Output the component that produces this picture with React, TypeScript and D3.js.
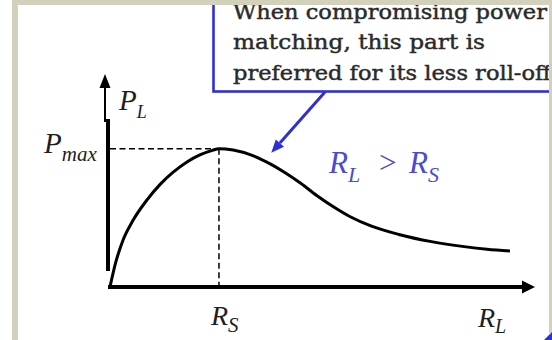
import React from "react";
import * as d3 from "d3";

// Load power P_L / P_max versus load resistance R_L / R_S
const loadRatio = [
  0, 0.05, 0.12, 0.21, 0.34, 0.46, 0.58, 0.71, 0.83, 0.94, 1.0, 1.13, 1.31,
  1.47, 1.6, 1.75, 1.9, 2.05, 2.2, 2.4, 2.65, 2.95, 3.25, 3.46, 3.67,
];
const powerRatio = [
  0, 0.17, 0.34, 0.48, 0.63, 0.742, 0.83, 0.906, 0.957, 0.988, 1.0, 0.99,
  0.95, 0.89, 0.83, 0.75, 0.66, 0.58, 0.51, 0.44, 0.38, 0.328, 0.292, 0.273,
  0.26,
];

// Matched load and maximum power marks
const matchedLoad = 1;
const maxPower = 1;

// Callout note and the curve point it refers to
const calloutLines = [
  "When compromising power",
  "matching, this part is",
  "preferred for its less roll-off",
];
const calloutWidths = [314, 252, 318];
const calloutTarget: [number, number] = [1.48, 0.97];

const W = 552;
const H = 340;
const TAN = "#d3d1bc";
const BLUE = "#2f2fd2";
const INK = "#1e1e1e";
const MATH = "'Liberation Serif', 'Times New Roman', serif";

export default function App() {
  const x = d3.scaleLinear().domain([0, 3.9]).range([110, 535]);
  const y = d3.scaleLinear().domain([0, 1.54]).range([287, 74]);

  const pts: [number, number][] = loadRatio.map((r, i) => [r, powerRatio[i]]);
  const curve = d3
    .line<[number, number]>()
    .x((d) => x(d[0]))
    .y((d) => y(d[1]))
    .curve(d3.curveMonotoneX)(pts) as string;

  const x0 = x(0) - 2;
  const y0 = y(0);
  const xEnd = x.range()[1];
  const yTop = y.range()[1];

  // Callout arrow geometry
  const tipX = x(calloutTarget[0]);
  const tipY = y(calloutTarget[1]);
  const startX = 325;
  const startY = 92;
  const ang = Math.atan2(tipY - startY, tipX - startX);
  const headLen = 13;
  const headHalf = 5.5;
  const bx = tipX - headLen * Math.cos(ang);
  const by = tipY - headLen * Math.sin(ang);
  const nx = -Math.sin(ang);
  const ny = Math.cos(ang);
  const head = `M${tipX},${tipY}L${bx + nx * headHalf},${by + ny * headHalf}L${
    bx - nx * headHalf
  },${by - ny * headHalf}Z`;

  return (
    <svg
      width={W}
      height={H}
      viewBox={`0 0 ${W} ${H}`}
      style={{ position: "absolute", left: 0, top: 0, background: "#fff" }}
    >
      <rect x={0} y={0} width={W} height={H} fill="#fff" />

      {/* callout box */}
      <rect
        x={213.5}
        y={-10}
        width={360}
        height={101.5}
        fill="#fff"
        stroke={BLUE}
        strokeWidth={2.6}
      />
      <g
        fontFamily="'DejaVu Serif', serif"
        fontSize={20.5}
        fill="#2a2a2a"
        stroke="#2a2a2a"
        strokeWidth={0.45}
      >
        {calloutLines.map((t, i) => (
          <text
            key={i}
            x={233}
            y={18.5 + i * 30.8}
            textLength={calloutWidths[i]}
            lengthAdjust="spacingAndGlyphs"
          >
            {t}
          </text>
        ))}
      </g>

      {/* callout arrow */}
      <line x1={startX} y1={startY} x2={bx} y2={by} stroke={BLUE} strokeWidth={3} />
      <path d={head} fill={BLUE} />

      {/* guide lines to the peak */}
      <g stroke="#000" strokeWidth={1.5} strokeDasharray="6,3.5">
        <line x1={x0 + 2} y1={y(maxPower)} x2={x(matchedLoad)} y2={y(maxPower)} />
        <line x1={x(matchedLoad)} y1={y(maxPower)} x2={x(matchedLoad)} y2={y0} />
      </g>

      {/* axes */}
      <line x1={105} y1={yTop + 12} x2={105} y2={122} stroke="#000" strokeWidth={2} />
      <line x1={108} y1={119} x2={108} y2={271} stroke="#000" strokeWidth={4} />
      <path d={`M105,${yTop}L99.5,${yTop + 14}L110.5,${yTop + 14}Z`} fill="#000" />
      <line x1={x0} y1={y0} x2={xEnd - 12} y2={y0} stroke="#000" strokeWidth={4} />
      <path
        d={`M${xEnd},${y0}L${xEnd - 13},${y0 - 6.5}L${xEnd - 13},${y0 + 6.5}Z`}
        fill="#000"
      />

      {/* power curve */}
      <path d={curve} fill="none" stroke="#000" strokeWidth={3} />

      {/* axis and mark labels */}
      <g fontFamily={MATH} fontStyle="italic" fill={INK}>
        <text x={119} y={110} fontSize={29}>
          P<tspan fontSize={18} dy={8}>L</tspan>
        </text>
        <text x={44} y={153} fontSize={29}>
          P<tspan fontSize={21} dy={8}>max</tspan>
        </text>
        <text x={x(matchedLoad) - 8} y={325} fontSize={28}>
          R<tspan fontSize={21} dy={7}>S</tspan>
        </text>
        <text x={478} y={327} fontSize={28}>
          R<tspan fontSize={20} dy={6}>L</tspan>
        </text>
      </g>
      <g fontFamily={MATH} fontSize={31} fill="#4a4ad2">
        <text x={329} y={173} fontStyle="italic">
          R<tspan fontSize={22} dy={9}>L</tspan>
        </text>
        <text x={379} y={173}>&gt;</text>
        <text x={409} y={173} fontStyle="italic">
          R<tspan fontSize={22} dy={9}>S</tspan>
        </text>
      </g>

      {/* frame */}
      <rect x={12} y={0} width={6} height={H} fill={TAN} />
      <rect x={12} y={0} width={W - 12} height={5} fill={TAN} />
      <rect x={549} y={0} width={3} height={333} fill={TAN} />
      <path d={`M552,332L552,${H}L544,${H}Z`} fill={BLUE} />
    </svg>
  );
}
